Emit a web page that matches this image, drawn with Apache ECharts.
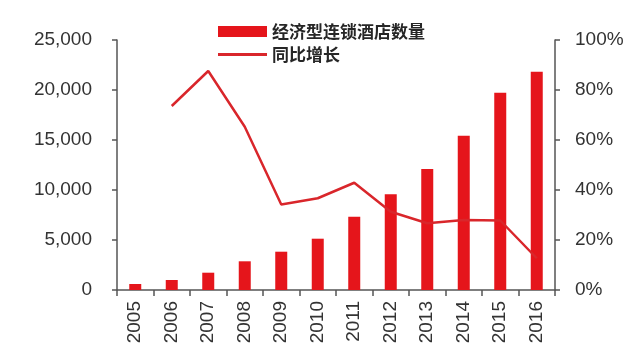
<!DOCTYPE html>
<html><head><meta charset="utf-8">
<script src="https://cdn.jsdelivr.net/npm/echarts@6/dist/echarts.min.js"></script>
<style>html,body{margin:0;padding:0;background:#fff}#c{width:640px;height:361px}</style>
</head><body><div id="c"></div>
<script>
const years = ['2005','2006','2007','2008','2009','2010','2011','2012','2013','2014','2015','2016'];
const hotelCount = [600, 1000, 1730, 2870, 3830, 5130, 7330, 9570, 12100, 15430, 19730, 21830];
const yoyGrowth = [null, 73.6, 87.6, 65.3, 34.2, 36.7, 42.9, 31.3, 26.7, 28.0, 27.8, 12.7];
const barName = '经济型连锁酒店数量';
const lineName = '同比增长';

const chart = echarts.init(document.getElementById('c'), null, {renderer:'canvas'});
const axisFont = {fontFamily:'Liberation Sans, Arial, sans-serif', fontSize:19, color:'#333'};
const legendText = {fontFamily:'Noto Sans CJK SC', fontSize:17, fontWeight:'bold', color:'#262626'};
chart.setOption({
  animation:false,
  backgroundColor:'#fff',
  grid:{left:117, right:85, top:40, bottom:71, containLabel:false},
  legend:[
    {left:213, top:18, itemWidth:49, itemHeight:11, textStyle:legendText,
     data:[{name:barName, icon:'rect'}]},
    {left:213, top:41, itemWidth:49, itemHeight:3, textStyle:legendText,
     data:[{name:lineName, icon:'rect'}]}
  ],
  xAxis:{
    type:'category', data:years,
    axisLine:{lineStyle:{color:'#555', width:1.5}},
    axisTick:{show:true, alignWithLabel:false, length:6, lineStyle:{color:'#555', width:1.5}},
    axisLabel:Object.assign({rotate:90, margin:11, interval:0}, axisFont)
  },
  yAxis:[
    {type:'value', min:0, max:25000, interval:5000,
     axisLine:{show:true, lineStyle:{color:'#555', width:1.5}},
     axisTick:{show:true, length:5, lineStyle:{color:'#555', width:1.5}},
     splitLine:{show:false},
     axisLabel:Object.assign({margin:25, formatter:v=>v.toLocaleString('en-US')}, axisFont)},
    {type:'value', min:0, max:100, interval:20, position:'right',
     axisLine:{show:true, lineStyle:{color:'#555', width:1.5}},
     axisTick:{show:true, length:5, lineStyle:{color:'#555', width:1.5}},
     splitLine:{show:false},
     axisLabel:Object.assign({margin:20, formatter:'{value}%'}, axisFont)}
  ],
  series:[
    {name:barName, type:'bar', data:hotelCount, barWidth:12, itemStyle:{color:'#e5151b'}},
    {name:lineName, type:'line', yAxisIndex:1, data:yoyGrowth, symbol:'none', connectNulls:false,
     lineStyle:{color:'#d9262b', width:2.5}, itemStyle:{color:'#d9262b'}}
  ]
});
</script></body></html>
